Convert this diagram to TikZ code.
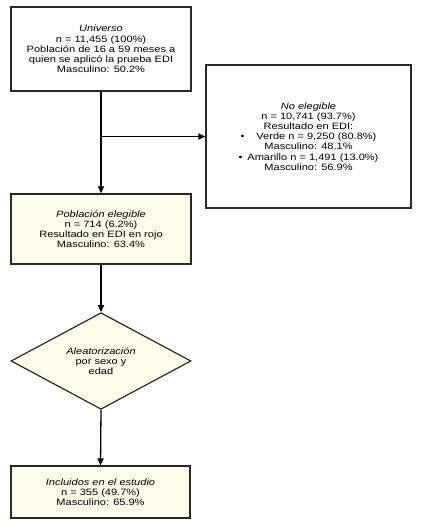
\documentclass[tikz,border=0pt]{standalone}
\usepackage{fontspec}
\setmainfont[FakeStretch=1.2]{Liberation Sans}
\usetikzlibrary{arrows.meta,shapes.geometric}
\definecolor{cream}{RGB}{254,253,234}
\definecolor{edge}{RGB}{40,40,40}
\begin{document}
\begin{tikzpicture}[x=1pt,y=-1pt,
  box/.style={draw=edge,line width=1.2pt,align=center,inner sep=0pt,
    font=\fontsize{9.2}{10.2}\selectfont},
  creambox/.style={box,fill=cream},
  decision/.style={diamond,draw=edge,line width=1.2pt,fill=cream,align=center,
    inner sep=0pt,font=\fontsize{9.2}{10.2}\selectfont},
  flow/.style={line width=1.3pt,draw=black,-{Triangle[length=7pt,width=6pt]}}]
\useasboundingbox (0,0) rectangle (427,529);
\node[box,minimum width=180pt,minimum height=84pt] (univ) at (101,49)
  {\itshape Universo\\ n = 11,455 (100\%)\\ Población de 16 a 59 meses a\\ quien se aplicó la prueba EDI\\ Masculino: 50.2\%};
\node[box,minimum width=205pt,minimum height=143pt] (noel) at (308.5,136.5)
  {\itshape No elegible\\ n = 10,741 (93.7\%)\\ Resultado en EDI:\\ •\hspace{12pt}Verde n = 9,250 (80.8\%)\\ Masculino: 48.1\%\\ •\hspace{5pt}Amarillo n = 1,491 (13.0\%)\\ Masculino: 56.9\%};
\node[creambox,minimum width=180pt,minimum height=70pt] (pobl) at (101,229)
  {\itshape Población elegible\\ n = 714 (6.2\%)\\ Resultado en EDI en rojo\\ Masculino: 63.4\%};
\node[decision,minimum width=180pt,minimum height=95pt] (diam) at (101,361)
  {\itshape Aleatorización\\ por sexo y\\ edad};
\node[creambox,minimum width=179pt,minimum height=52pt] (incl) at (100.5,492)
  {\itshape Incluidos en el estudio\\ n = 355 (49.7\%)\\ Masculino: 65.9\%};
\coordinate (br) at (101,136.5);
\draw[flow] (univ.south) -- (pobl.north);
\draw[flow] (br) -- (noel.west);
\draw[flow] (pobl.south) -- (diam.north);
\draw[flow] (diam.south) -- (incl.north);
\end{tikzpicture}
\end{document}
